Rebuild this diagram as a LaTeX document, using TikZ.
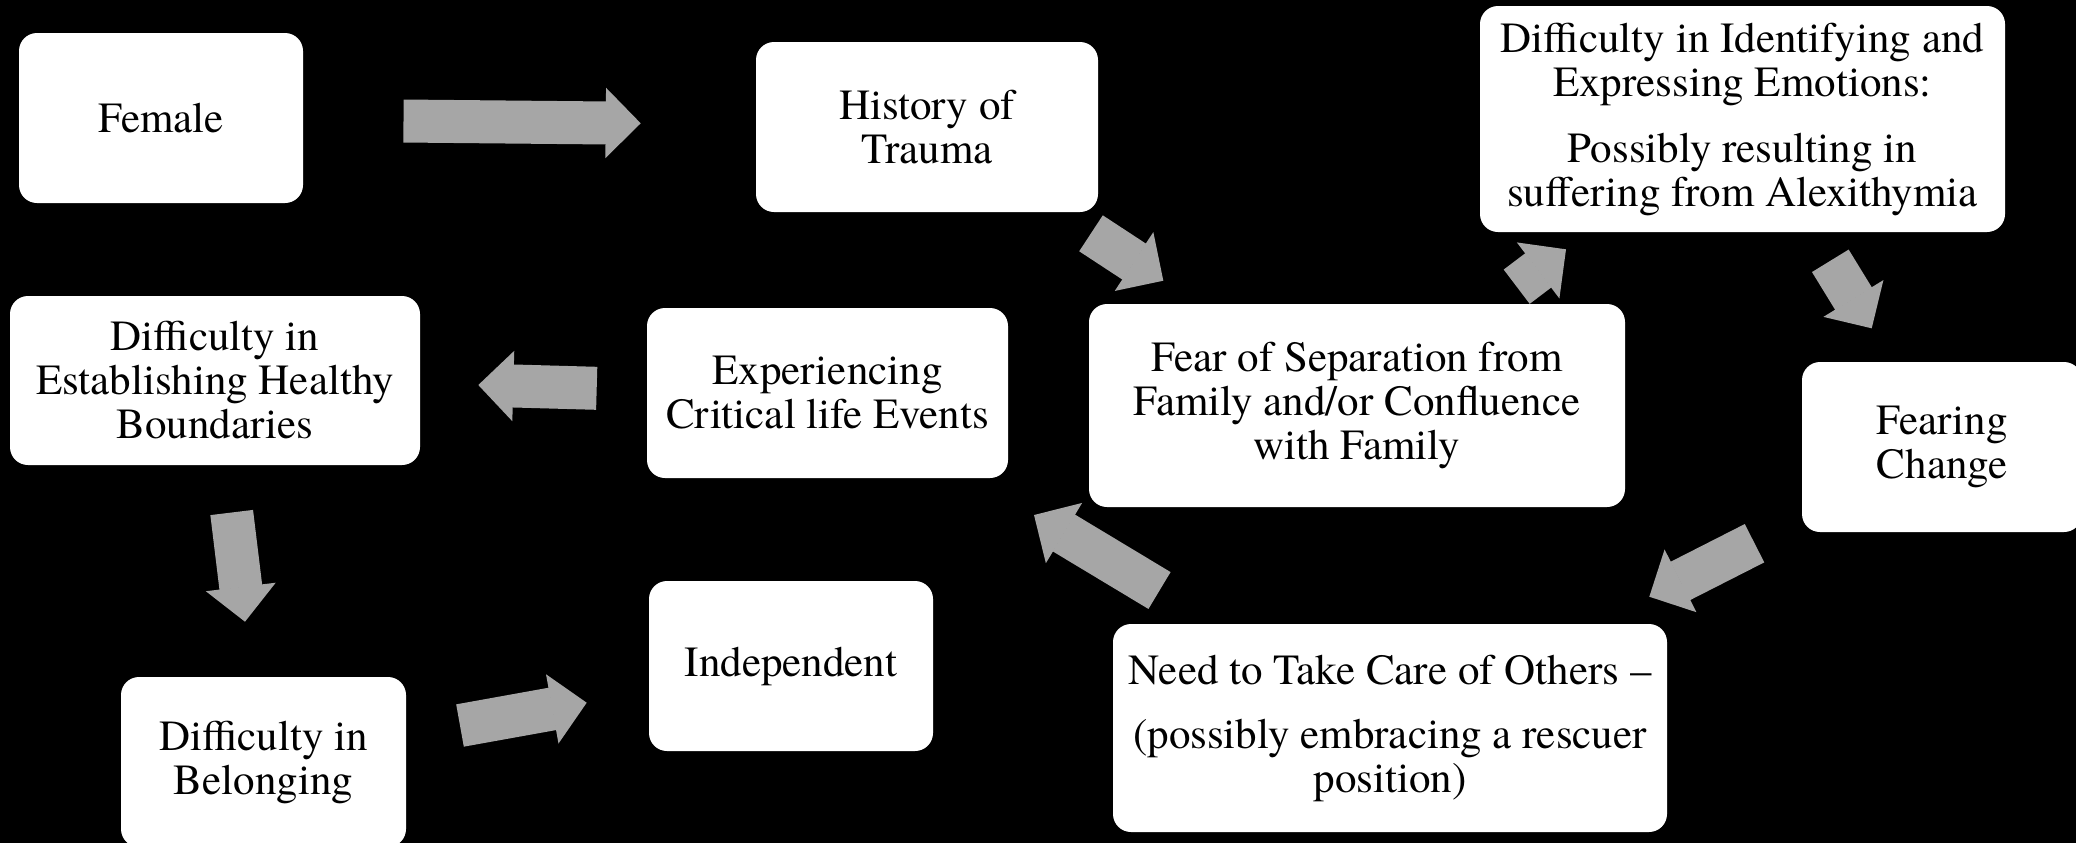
\documentclass[tikz,border=0pt]{standalone}
\usepackage{fontspec}
\setmainfont{TeX Gyre Termes}
\usepackage{tikz}
\usetikzlibrary{arrows.meta}
\definecolor{fdgray}{HTML}{A6A6A6}
\definecolor{fdback}{HTML}{000000}

\begin{document}
\begin{tikzpicture}[
  x=0.5pt, y=-0.5pt,
  box/.style={fill=white, draw=none, rounded corners=9pt, align=center, inner sep=2pt,
    font=\fontsize{21.5pt}{22pt}\selectfont, text=black},
  arrow/.style={draw=fdgray, line width=21.5pt,
    -{Triangle[width=35pt, length=17.5pt, line width=1pt]}}
]
\path[use as bounding box, fill=fdback] (0,0) rectangle (2076,843);

% boxes
\node[box, minimum width=142pt, minimum height=85pt] (female) at (161,118) {Female};
\node[box, minimum width=171pt, minimum height=85pt] (trauma) at (927,127) {History of\\Trauma};
\node[box, minimum width=262.5pt, minimum height=113pt] (alexi) at (1742.5,119)
  {Difficulty in Identifying and\\Expressing Emotions:\\[11pt]Possibly resulting in\\suffering from Alexithymia};
\node[box, minimum width=205pt, minimum height=84.5pt] (boundaries) at (215,380.5)
  {Difficulty in\\Establishing Healthy\\Boundaries};
\node[box, minimum width=180.5pt, minimum height=85pt] (critical) at (827.5,393)
  {Experiencing\\Critical life Events};
\node[box, minimum width=268pt, minimum height=101.5pt] (separation) at (1357,405.5)
  {Fear of Separation from\\Family and/or Confluence\\with Family};
\node[box, minimum width=140pt, minimum height=85pt] (change) at (1942,447) {Fearing\\Change};
\node[box, minimum width=142.5pt, minimum height=85pt] (belonging) at (263.5,762)
  {Difficulty in\\Belonging};
\node[box, minimum width=142pt, minimum height=85pt] (independent) at (791,666) {Independent};
\node[box, minimum width=277pt, minimum height=104pt] (care) at (1390,728)
  {Need to Take Care of Others --\\[10pt](possibly embracing a rescuer\\position)};

% arrow ends
\coordinate (female-out) at (403.5,121);
\coordinate (trauma-in) at (640.7,123.3);
\coordinate (trauma-out) at (1091,233.3);
\coordinate (separation-in) at (1163.3,280.7);
\coordinate (separation-out) at (1516.7,286.7);
\coordinate (alexi-in) at (1566,249.3);
\coordinate (alexi-out) at (1830.3,260.8);
\coordinate (change-in) at (1871.7,328.3);
\coordinate (change-out) at (1754.5,543.2);
\coordinate (care-in) at (1649.3,596.7);
\coordinate (care-out) at (1159.5,590.5);
\coordinate (critical-in) at (1034,515);
\coordinate (critical-out) at (596.7,388.3);
\coordinate (boundaries-in) at (478.3,385);
\coordinate (boundaries-out) at (231.7,512.5);
\coordinate (belonging-in) at (245,621.7);
\coordinate (belonging-out) at (460,725.5);
\coordinate (independent-in) at (586.7,702.7);

\draw[arrow] (female-out) -- (trauma-in);
\draw[arrow] (trauma-out) -- (separation-in);
\draw[arrow] (separation-out) -- (alexi-in);
\draw[arrow] (alexi-out) -- (change-in);
\draw[arrow] (change-out) -- (care-in);
\draw[arrow] (care-out) -- (critical-in);
\draw[arrow] (critical-out) -- (boundaries-in);
\draw[arrow] (boundaries-out) -- (belonging-in);
\draw[arrow] (belonging-out) -- (independent-in);
\end{tikzpicture}
\end{document}
